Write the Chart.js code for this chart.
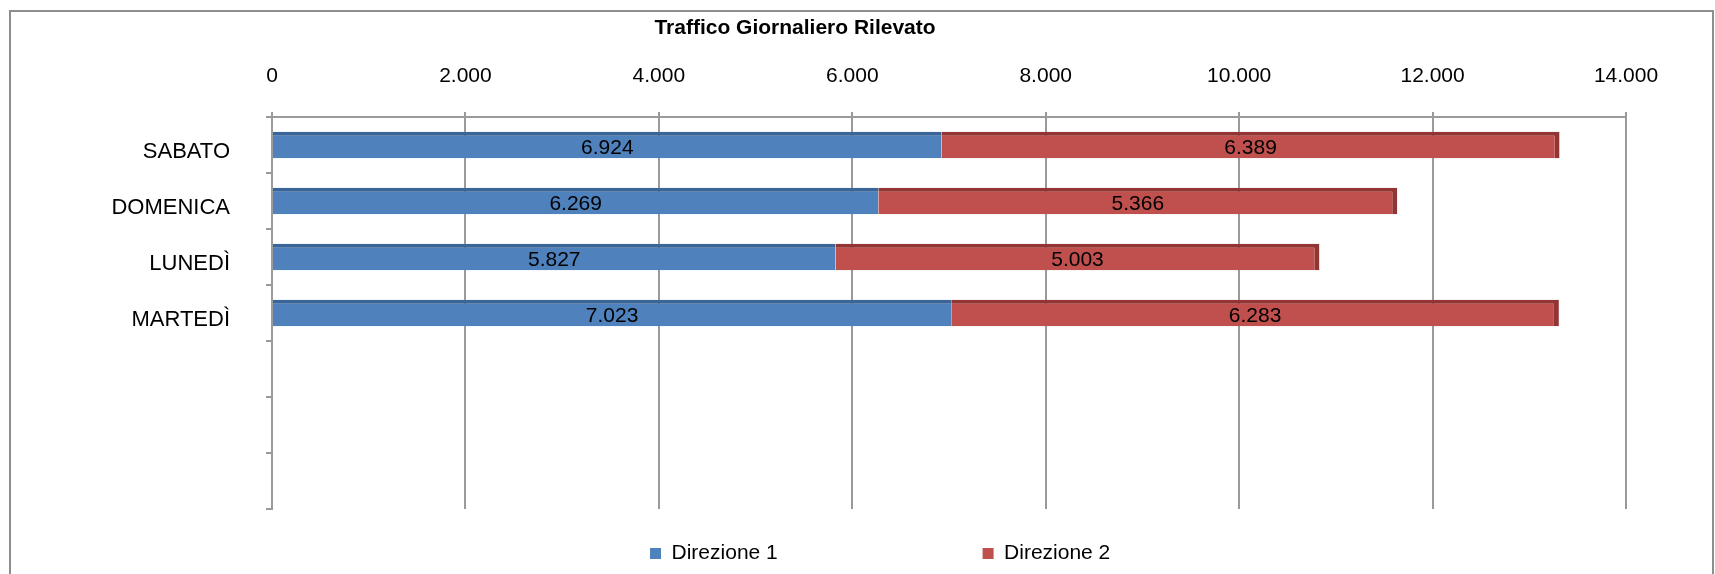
<!DOCTYPE html>
<html>
<head>
<meta charset="utf-8">
<script src="https://cdn.jsdelivr.net/npm/chart.js@4"></script>
<style>
  body { margin: 0; background: #fff; }
  #wrap { position: relative; width: 1715px; height: 574px; overflow: hidden; }
  #frame { position: absolute; left: 9px; top: 10px; width: 1701px; height: 600px;
           border: 2px solid #8e8e8e; pointer-events: none; }
</style>
</head>
<body>
<div id="wrap">
  <canvas id="chart" width="1715" height="574"></canvas>
  <div id="frame"></div>
</div>
<script>
// Dati del grafico (3 righe vuote in fondo come nell'originale)
const giorni = ['SABATO', 'DOMENICA', 'LUNEDÌ', 'MARTEDÌ', '', '', ''];
const direzione1 = [6924, 6269, 5827, 7023];
const direzione2 = [6389, 5366, 5003, 6283];
const nomiSerie = ['Direzione 1', 'Direzione 2'];
const tickMax = 14000;
const tickStep = 2000;

const grigio = '#9a9a9a';
const famiglia = '"Liberation Sans", Arial, sans-serif';
const font = { family: famiglia, size: 21 };

// formato italiano: 6.924
function migliaia(v) {
  return String(v).replace(/\B(?=(\d{3})+(?!\d))/g, '.');
}

// titolo spostato a sinistra come nell'originale
const titolo = {
  id: 'titolo',
  afterDraw(chart) {
    const ctx = chart.ctx;
    ctx.save();
    ctx.font = 'bold 21px ' + famiglia;
    ctx.fillStyle = '#000';
    ctx.textAlign = 'center';
    ctx.textBaseline = 'middle';
    ctx.fillText('Traffico Giornaliero Rilevato', 795, 28);
    ctx.restore();
  }
};

// etichette dei valori al centro di ogni segmento
const etichette = {
  id: 'etichette',
  afterDatasetsDraw(chart) {
    const ctx = chart.ctx;
    ctx.save();
    ctx.font = font.size + 'px ' + famiglia;
    ctx.fillStyle = '#000';
    ctx.textAlign = 'center';
    ctx.textBaseline = 'middle';
    chart.data.datasets.forEach((ds, i) => {
      chart.getDatasetMeta(i).data.forEach((bar, j) => {
        const v = ds.data[j];
        if (v == null) return;
        ctx.fillText(migliaia(v), (bar.x + bar.base) / 2, bar.y + 3);
      });
    });
    ctx.restore();
  }
};

const config = {
  type: 'bar',
  data: {
    labels: giorni,
    datasets: [{
      label: nomiSerie[0],
      data: direzione1,
      backgroundColor: '#4F81BD',
      borderColor: '#3a6598',
      borderWidth: { top: 4, right: 0, bottom: 0, left: 0 },
      borderSkipped: false
    }, {
      label: nomiSerie[1],
      data: direzione2,
      backgroundColor: '#C0504D',
      borderColor: '#923533',
      borderWidth: { top: 4, right: 5, bottom: 0, left: 0 },
      borderSkipped: false
    }]
  },
  options: {
    indexAxis: 'y',
    responsive: false,
    animation: false,
    barPercentage: 0.47,
    categoryPercentage: 1,
    layout: { padding: { left: 100, right: 89, top: 0, bottom: 0 } },
    scales: {
      x: {
        position: 'top',
        stacked: true,
        min: 0,
        max: tickMax,
        ticks: {
          stepSize: tickStep,
          color: '#000',
          font: font,
          padding: 23,
          callback: (v) => migliaia(v)
        },
        grid: { color: grigio, lineWidth: 2, tickLength: 5 },
        border: { color: grigio, width: 2 },
        afterFit: (s) => { s.height = 117; }
      },
      y: {
        stacked: true,
        ticks: { color: '#000', font: { family: famiglia, size: 22 }, padding: 36, labelOffset: 7 },
        grid: { drawOnChartArea: false, color: grigio, lineWidth: 2, tickLength: 6 },
        border: { color: grigio, width: 2 },
        afterFit: (s) => { s.width = 172; }
      }
    },
    plugins: {
      title: { display: false },
      tooltip: { enabled: false },
      legend: {
        position: 'bottom',
        fullSize: false,
        title: { display: true, text: '', font: { size: 10 }, padding: { top: 0, bottom: 12 } },
        labels: {
          color: '#000',
          font: font,
          boxWidth: 11,
          boxHeight: 11,
          padding: 10,
          generateLabels(chart) {
            const items = Chart.defaults.plugins.legend.labels.generateLabels(chart);
            items[0].text += '\u2003'.repeat(9) + ' ';
            items[1].text += '\u2003'.repeat(6) + '  ';
            items.forEach(it => { it.lineWidth = 0; });
            return items;
          }
        }
      }
    }
  },
  plugins: [titolo, etichette]
};

const chartElement = document.getElementById('chart');
const myChart = new Chart(chartElement, config);
</script>
</body>
</html>
